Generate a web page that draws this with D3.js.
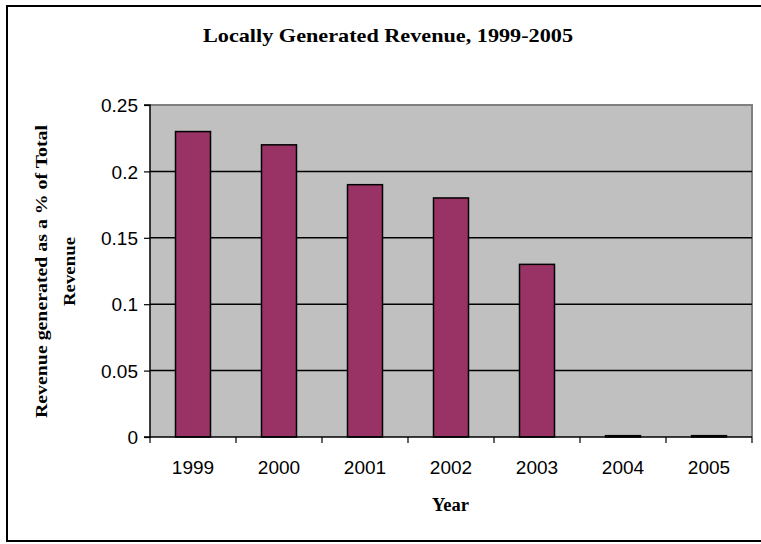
<!DOCTYPE html>
<html><head><meta charset="utf-8">
<script src="https://cdn.jsdelivr.net/npm/d3@7"></script>
<style>body{margin:0;background:#fff}svg{display:block}</style>
</head><body>
<script>
const years = ["1999","2000","2001","2002","2003","2004","2005"];
const values = [0.23, 0.22, 0.19, 0.18, 0.13, 0.001, 0.001];
const yTicks = [0, 0.05, 0.1, 0.15, 0.2, 0.25];
const title = "Locally Generated Revenue, 1999-2005";
const yLabel = ["Revenue generated as a % of Total", "Revenue"];
const xLabel = "Year";

const W = 761, H = 544;
const m = {left:150, top:105, right:752, bottom:437};
const svg = d3.select("body").append("svg").attr("width", W).attr("height", H);

// outer frame
svg.append("rect").attr("x",7).attr("y",6).attr("width",780).attr("height",535)
  .attr("fill","#fff").attr("stroke","#000").attr("stroke-width",2);

const x = d3.scaleBand().domain(years).range([m.left, m.right]).paddingInner(0).paddingOuter(0);
const y = d3.scaleLinear().domain([0, 0.25]).range([m.bottom, m.top]);

// plot area
svg.append("rect").attr("x",m.left).attr("y",m.top).attr("width",m.right-m.left).attr("height",m.bottom-m.top)
  .attr("fill","#c0c0c0");
svg.append("path").attr("d",`M${m.left},${m.top}H${m.right}V${m.bottom}`)
  .attr("fill","none").attr("stroke","#808080").attr("stroke-width",2);

// gridlines
svg.append("g").selectAll("line").data(yTicks.filter(t=>t>0 && t<0.25)).join("line")
  .attr("x1",m.left).attr("x2",m.right).attr("y1",d=>y(d)).attr("y2",d=>y(d))
  .attr("stroke","#000").attr("stroke-width",1.5);

// bars
const bw = 35;
svg.append("g").selectAll("rect").data(values).join("rect")
  .attr("x",(d,i)=>x(years[i]) + x.bandwidth()/2 - bw/2)
  .attr("width",bw)
  .attr("y",d=>y(d))
  .attr("height",d=>y(0)-y(d))
  .attr("fill","#993366").attr("stroke","#000").attr("stroke-width",1.5);

// y axis
const yAxis = d3.axisLeft(y).tickValues(yTicks).tickSize(6).tickPadding(6)
  .tickFormat(d=>String(+d.toFixed(2)));
const gy = svg.append("g").attr("transform",`translate(${m.left},0)`).call(yAxis);
gy.select(".domain").attr("stroke","#000").attr("stroke-width",1.5).attr("d",`M-6,${m.top}H0V${m.bottom}H-6`);
gy.selectAll(".tick line").attr("stroke","#000").attr("stroke-width",1.2);
gy.selectAll("text").attr("font-family","Liberation Sans, Arial, sans-serif").attr("font-size",19).attr("fill","#000")
  .attr("dy","0.35em");

// x axis
const boundaries = years.map(yr=>x(yr)).concat([m.right]);
const gx = svg.append("g");
gx.append("line").attr("x1",m.left).attr("x2",m.right).attr("y1",m.bottom).attr("y2",m.bottom)
  .attr("stroke","#000").attr("stroke-width",1.5);
gx.selectAll("line.t").data(boundaries).join("line").attr("class","t")
  .attr("x1",d=>d).attr("x2",d=>d).attr("y1",m.bottom).attr("y2",m.bottom+6)
  .attr("stroke","#000").attr("stroke-width",1.2);
gx.selectAll("text").data(years).join("text")
  .attr("x",d=>x(d)+x.bandwidth()/2).attr("y",474).attr("text-anchor","middle")
  .attr("font-family","Liberation Sans, Arial, sans-serif").attr("font-size",19).text(d=>d);

// titles
const serif = "Liberation Serif, Times New Roman, serif";
svg.append("text").attr("x",388).attr("y",42).attr("text-anchor","middle")
  .attr("font-family",serif).attr("font-weight","bold").attr("font-size",19)
  .attr("textLength",370).attr("lengthAdjust","spacingAndGlyphs")
  .text(title);
svg.append("text").attr("x",450.5).attr("y",511).attr("text-anchor","middle")
  .attr("font-family",serif).attr("font-weight","bold").attr("font-size",18)
  .attr("textLength",37).attr("lengthAdjust","spacingAndGlyphs")
  .text(xLabel);
const yl = svg.append("text").attr("transform","translate(0,271.5) rotate(-90)")
  .attr("text-anchor","middle")
  .attr("font-family",serif).attr("font-weight","bold").attr("font-size",16);
yl.append("tspan").attr("x",0).attr("y",47).attr("textLength",293).attr("lengthAdjust","spacingAndGlyphs").text(yLabel[0]);
yl.append("tspan").attr("x",0).attr("y",75).attr("textLength",69).attr("lengthAdjust","spacingAndGlyphs").text(yLabel[1]);
</script>
</body></html>
